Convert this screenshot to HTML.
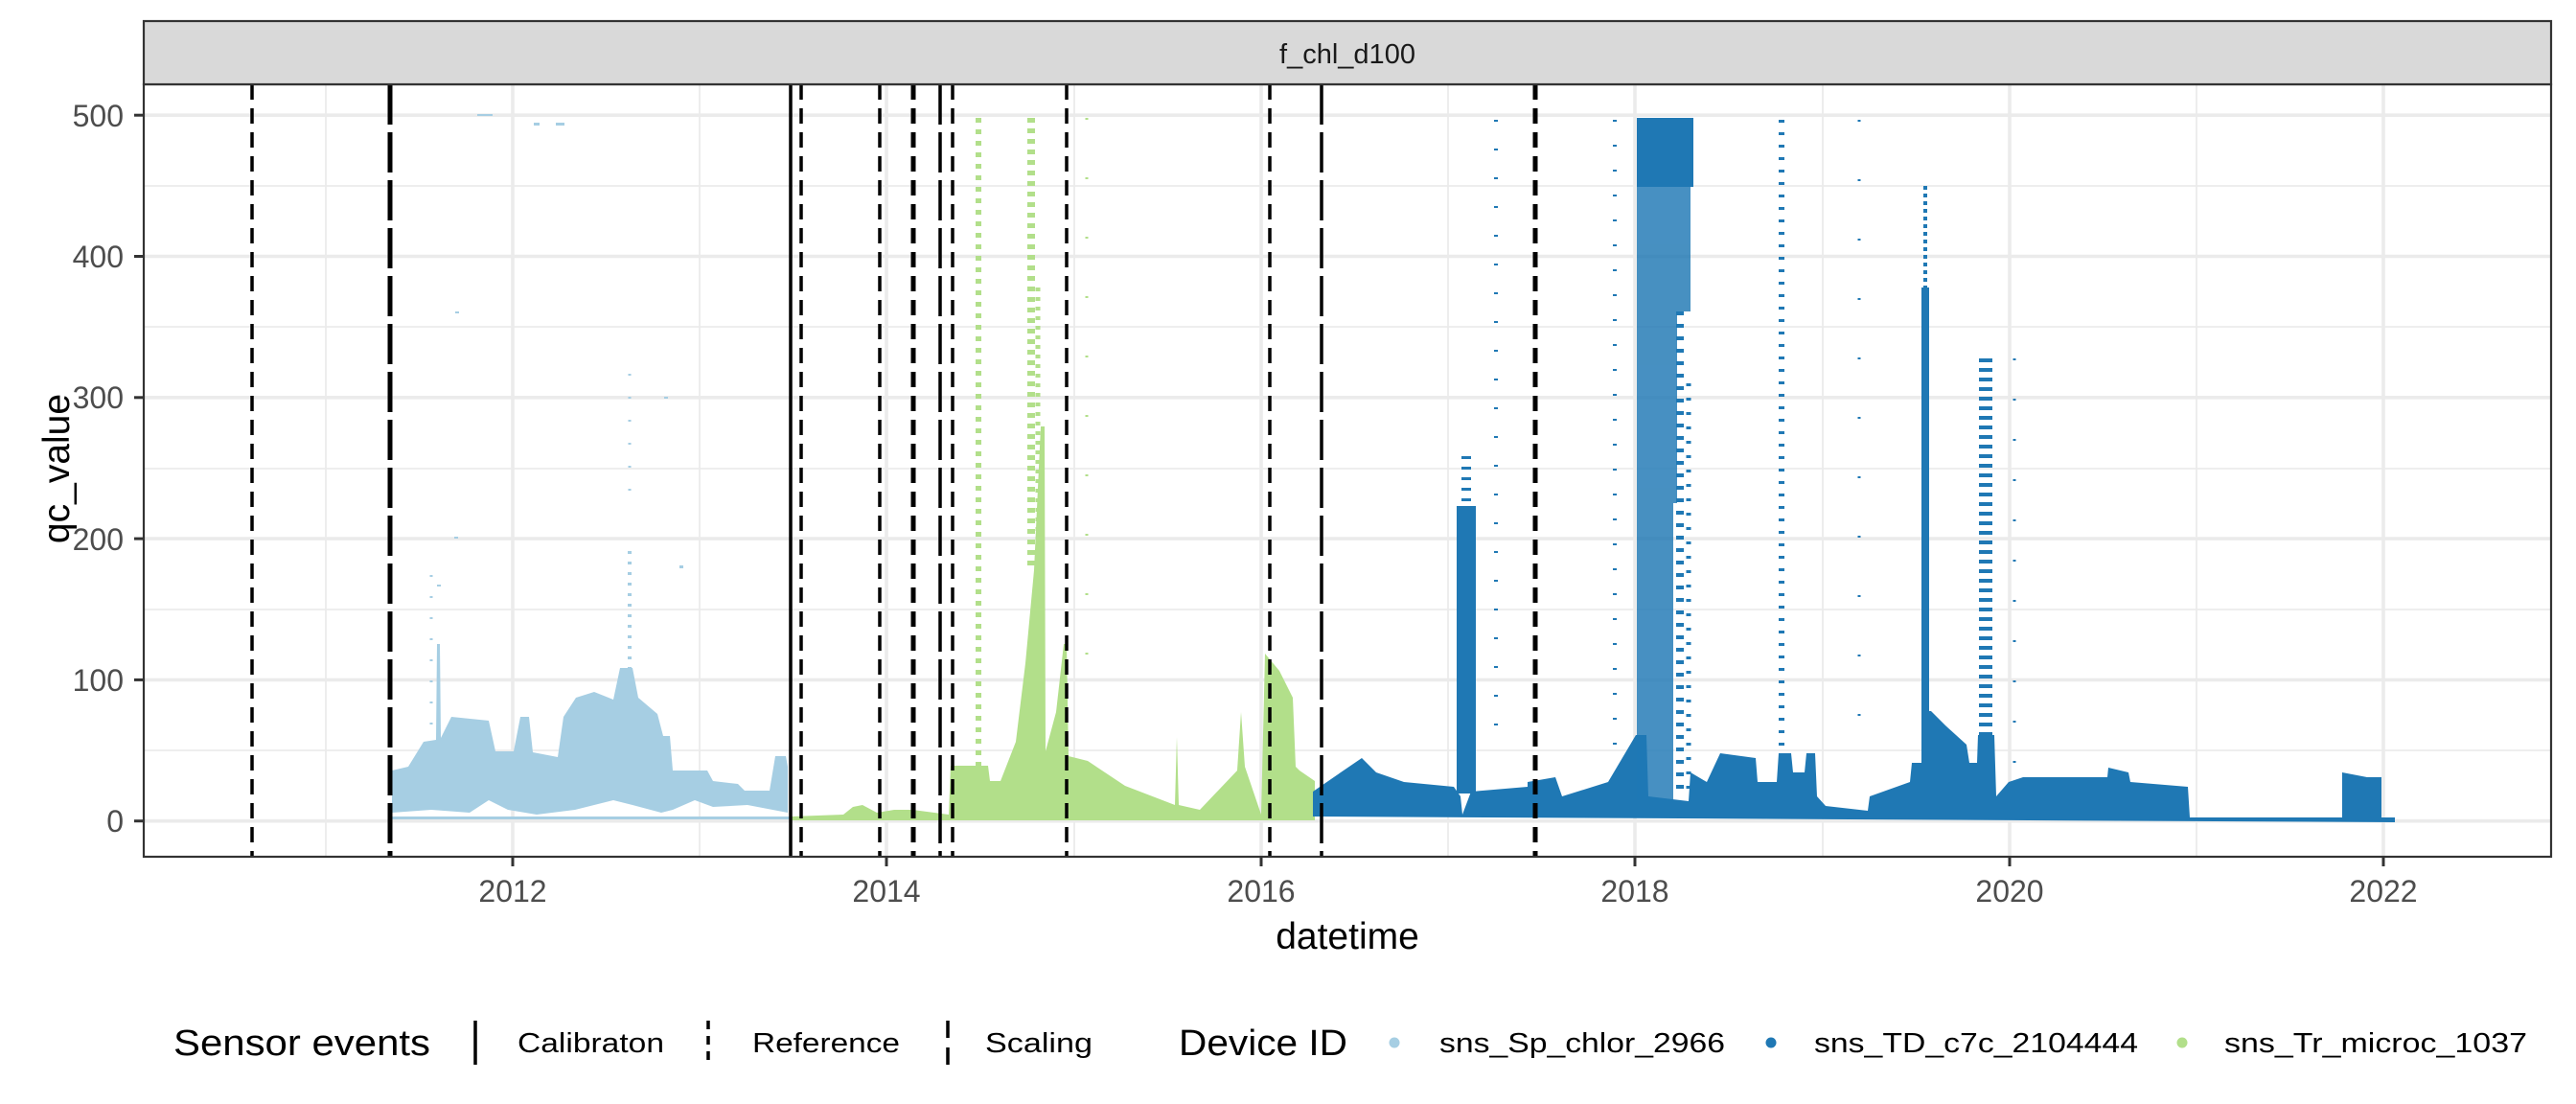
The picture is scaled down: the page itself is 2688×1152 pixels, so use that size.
<!DOCTYPE html>
<html><head><meta charset="utf-8"><style>
html,body{margin:0;padding:0;background:#fff;}
svg{display:block;}
text{font-family:"Liberation Sans",Arial,sans-serif;}
</style></head><body>
<svg width="2688" height="1152" viewBox="0 0 2688 1152" xmlns="http://www.w3.org/2000/svg">
<rect width="2688" height="1152" fill="#fff"/>
<g stroke="#EBEBEB" stroke-width="1.8">
<line x1="150" x2="2662" y1="783" y2="783"/><line x1="150" x2="2662" y1="636" y2="636"/><line x1="150" x2="2662" y1="489" y2="489"/><line x1="150" x2="2662" y1="341" y2="341"/><line x1="150" x2="2662" y1="194" y2="194"/>
<line x1="340" x2="340" y1="88" y2="894"/><line x1="730" x2="730" y1="88" y2="894"/><line x1="1121" x2="1121" y1="88" y2="894"/><line x1="1511" x2="1511" y1="88" y2="894"/><line x1="1902" x2="1902" y1="88" y2="894"/><line x1="2292" x2="2292" y1="88" y2="894"/>
</g>
<g stroke="#EBEBEB" stroke-width="3.6">
<line x1="150" x2="2662" y1="856.7" y2="856.7"/><line x1="150" x2="2662" y1="709.4" y2="709.4"/><line x1="150" x2="2662" y1="562.1" y2="562.1"/><line x1="150" x2="2662" y1="414.8" y2="414.8"/><line x1="150" x2="2662" y1="267.5" y2="267.5"/><line x1="150" x2="2662" y1="120.2" y2="120.2"/>
<line x1="535" x2="535" y1="88" y2="894"/><line x1="925" x2="925" y1="88" y2="894"/><line x1="1316" x2="1316" y1="88" y2="894"/><line x1="1706" x2="1706" y1="88" y2="894"/><line x1="2097" x2="2097" y1="88" y2="894"/><line x1="2487" x2="2487" y1="88" y2="894"/>
</g>

<!-- light blue series -->
<g fill="#A6CEE3">
<polygon points="409,804 426,800 442,774 455,772 456,672 459,672 460,770 471,748 510,752 517,784 536,784 543,748 552,748 556,785 582,790 588,748 601,728 620,722 640,730 647,697 660,697 666,728 686,745 692,768 699,768 702,804 738,804 744,815 770,818 777,825 803,825 809,789 820,789 822,800 822,848 780,840 744,842 725,835 702,845 690,848 660,840 640,835 600,845 560,850 530,845 510,835 490,848 450,845 409,848"/>
<rect x="498" y="119" width="16" height="2"/><rect x="557" y="128" width="6" height="3"/><rect x="580" y="128" width="9" height="3"/>
<rect x="693" y="414" width="4" height="2"/><rect x="456" y="610" width="4" height="2"/><rect x="709" y="590" width="4" height="3"/>
<rect x="474" y="560" width="4" height="2"/><rect x="475" y="325" width="4" height="2"/>
<rect x="405" y="852" width="420" height="3"/>
</g>
<line x1="657" x2="657" y1="575" y2="697" stroke="#A6CEE3" stroke-width="4" stroke-dasharray="3 8"/>
<line x1="657" x2="657" y1="390" y2="530" stroke="#A6CEE3" stroke-width="3" stroke-dasharray="2 22"/>
<line x1="450" x2="450" y1="600" y2="760" stroke="#A6CEE3" stroke-width="3" stroke-dasharray="2 20"/>

<!-- green series -->
<g fill="#B2DF8A">
<polygon points="826,852 880,850 890,842 900,840 915,848 933,845 952,845 975,848 990,850 992,799 1031,799 1033,815 1044,815 1060,774 1070,692 1079,595 1086,445 1090,445 1091,784 1102,743 1110,672 1113,672 1115,789 1135,794 1174,820 1187,825 1226,840 1228,769 1230,840 1252,845 1291,804 1295,743 1299,800 1316,850 1320,682 1335,700 1349,728 1352,800 1356,804 1372,815 1372,856 826,856"/>
</g>
<line x1="1021" x2="1021" y1="123" y2="799" stroke="#B2DF8A" stroke-width="6" stroke-dasharray="5 7"/>
<line x1="1076" x2="1076" y1="123" y2="595" stroke="#B2DF8A" stroke-width="8" stroke-dasharray="5 6"/>
<line x1="1083" x2="1083" y1="300" y2="595" stroke="#B2DF8A" stroke-width="5" stroke-dasharray="4 6"/>
<line x1="1134" x2="1134" y1="123" y2="690" stroke="#B2DF8A" stroke-width="3" stroke-dasharray="2 60"/>

<!-- dark blue series -->
<g fill="#1F78B4">
<polygon points="1370,826 1399,806 1421,791 1436,806 1465,816 1517,821 1524,831 1526,850 1535,826 1594,821 1594,816 1623,811 1630,831 1678,816 1707,767 1718,767 1720,831 1762,836 1764,806 1781,816 1795,786 1832,791 1834,816 1854,816 1856,786 1869,786 1871,806 1883,806 1885,786 1894,786 1896,831 1905,841 1949,846 1951,831 1993,816 1995,796 2008,796 2010,742 2015,742 2030,757 2052,777 2055,796 2063,796 2064,767 2081,767 2083,831 2096,816 2111,811 2199,811 2200,801 2221,806 2223,816 2283,821 2285,853 2444,853 2444,806 2470,811 2485,811 2485,853 2499,853 2499,858 1370,852"/>
<rect x="1520" y="528" width="20" height="300"/>
<rect x="1708" y="123" width="59" height="72"/>
<rect x="2005" y="300" width="8" height="500"/>
</g>
<g fill="#1F78B4" opacity="0.82">
<rect x="1708" y="195" width="56" height="130"/>
<rect x="1708" y="325" width="42" height="200"/>
<rect x="1708" y="525" width="38" height="310"/>
</g>
<line x1="1530" x2="1530" y1="476" y2="528" stroke="#1F78B4" stroke-width="10" stroke-dasharray="3 8"/>
<line x1="1753" x2="1753" y1="325" y2="830" stroke="#1F78B4" stroke-width="8" stroke-dasharray="4 9"/>
<line x1="1762" x2="1762" y1="400" y2="830" stroke="#1F78B4" stroke-width="5" stroke-dasharray="3 12"/>
<line x1="2009" x2="2009" y1="194" y2="300" stroke="#1F78B4" stroke-width="4" stroke-dasharray="4 4"/>
<line x1="2072" x2="2072" y1="374" y2="796" stroke="#1F78B4" stroke-width="14" stroke-dasharray="4 6"/>
<line x1="1859" x2="1859" y1="125" y2="786" stroke="#1F78B4" stroke-width="6" stroke-dasharray="3 10"/>
<line x1="1561" x2="1561" y1="125" y2="780" stroke="#1F78B4" stroke-width="4" stroke-dasharray="2 28"/>
<line x1="1685" x2="1685" y1="125" y2="790" stroke="#1F78B4" stroke-width="4" stroke-dasharray="2 24"/>
<line x1="2102" x2="2102" y1="374" y2="800" stroke="#1F78B4" stroke-width="3" stroke-dasharray="2 40"/>
<line x1="1940" x2="1940" y1="125" y2="800" stroke="#1F78B4" stroke-width="3" stroke-dasharray="2 60"/>

<!-- event lines -->
<g stroke="#000">
<line x1="263" x2="263" y1="88" y2="894" stroke-width="3.5" stroke-dasharray="16 9"/>
<line x1="407" x2="407" y1="88" y2="894" stroke-width="5" stroke-dasharray="42 8"/>
<line x1="825" x2="825" y1="88" y2="894" stroke-width="3.5"/>
<line x1="836" x2="836" y1="88" y2="894" stroke-width="3.5" stroke-dasharray="16 9"/>
<line x1="918" x2="918" y1="88" y2="894" stroke-width="3.5" stroke-dasharray="16 9"/>
<line x1="953" x2="953" y1="88" y2="894" stroke-width="5" stroke-dasharray="16 9"/>
<line x1="981" x2="981" y1="88" y2="894" stroke-width="3.5" stroke-dasharray="42 8"/>
<line x1="994" x2="994" y1="88" y2="894" stroke-width="3.5" stroke-dasharray="16 9"/>
<line x1="1113" x2="1113" y1="88" y2="894" stroke-width="3.5" stroke-dasharray="16 9"/>
<line x1="1325" x2="1325" y1="88" y2="894" stroke-width="3.5" stroke-dasharray="16 9"/>
<line x1="1379" x2="1379" y1="88" y2="894" stroke-width="3.5" stroke-dasharray="42 8"/>
<line x1="1602" x2="1602" y1="88" y2="894" stroke-width="5" stroke-dasharray="16 9"/>
</g>

<rect x="150" y="88" width="2512" height="806" fill="none" stroke="#333" stroke-width="2.2"/>
<rect x="150" y="22" width="2512" height="66" fill="#D9D9D9" stroke="#333" stroke-width="2.2"/>
<text x="1406" y="66" font-size="29" fill="#1A1A1A" text-anchor="middle">f_chl_d100</text>

<g stroke="#333" stroke-width="3">
<line x1="140" x2="150" y1="856.7" y2="856.7"/><line x1="140" x2="150" y1="709.4" y2="709.4"/><line x1="140" x2="150" y1="562.1" y2="562.1"/><line x1="140" x2="150" y1="414.8" y2="414.8"/><line x1="140" x2="150" y1="267.5" y2="267.5"/><line x1="140" x2="150" y1="120.2" y2="120.2"/>
<line x1="535" x2="535" y1="894" y2="904"/><line x1="925" x2="925" y1="894" y2="904"/><line x1="1316" x2="1316" y1="894" y2="904"/><line x1="1706" x2="1706" y1="894" y2="904"/><line x1="2097" x2="2097" y1="894" y2="904"/><line x1="2487" x2="2487" y1="894" y2="904"/>
</g>
<g font-size="32" fill="#4D4D4D" text-anchor="end">
<text x="129" y="868">0</text><text x="129" y="721">100</text><text x="129" y="574">200</text><text x="129" y="426">300</text><text x="129" y="279">400</text><text x="129" y="132">500</text>
</g>
<g font-size="32" fill="#4D4D4D" text-anchor="middle">
<text x="535" y="941">2012</text><text x="925" y="941">2014</text><text x="1316" y="941">2016</text><text x="1706" y="941">2018</text><text x="2097" y="941">2020</text><text x="2487" y="941">2022</text>
</g>
<text x="1406" y="990" font-size="39" fill="#000" text-anchor="middle">datetime</text>
<text transform="translate(72,489) rotate(-90)" font-size="39" fill="#000" text-anchor="middle">qc_value</text>

<text x="181" y="1101" font-size="38" textLength="268" lengthAdjust="spacingAndGlyphs">Sensor events</text>
<line x1="496" x2="496" y1="1065" y2="1111" stroke="#000" stroke-width="3.5"/>
<text x="540" y="1098" font-size="29" textLength="153" lengthAdjust="spacingAndGlyphs">Calibraton</text>
<line x1="739" x2="739" y1="1065" y2="1111" stroke="#000" stroke-width="3.5" stroke-dasharray="9 7"/>
<text x="785" y="1098" font-size="29" textLength="154" lengthAdjust="spacingAndGlyphs">Reference</text>
<line x1="989" x2="989" y1="1065" y2="1111" stroke="#000" stroke-width="3.5" stroke-dasharray="18 10"/>
<text x="1028" y="1098" font-size="29" textLength="112" lengthAdjust="spacingAndGlyphs">Scaling</text>
<text x="1230" y="1101" font-size="38" textLength="176" lengthAdjust="spacingAndGlyphs">Device ID</text>
<circle cx="1455" cy="1088" r="5.5" fill="#A6CEE3"/>
<text x="1502" y="1098" font-size="29" textLength="298" lengthAdjust="spacingAndGlyphs">sns_Sp_chlor_2966</text>
<circle cx="1848" cy="1088" r="5.5" fill="#1F78B4"/>
<text x="1893" y="1098" font-size="29" textLength="338" lengthAdjust="spacingAndGlyphs">sns_TD_c7c_2104444</text>
<circle cx="2277" cy="1088" r="5.5" fill="#B2DF8A"/>
<text x="2321" y="1098" font-size="29" textLength="316" lengthAdjust="spacingAndGlyphs">sns_Tr_microc_1037</text>
</svg>
</body></html>
